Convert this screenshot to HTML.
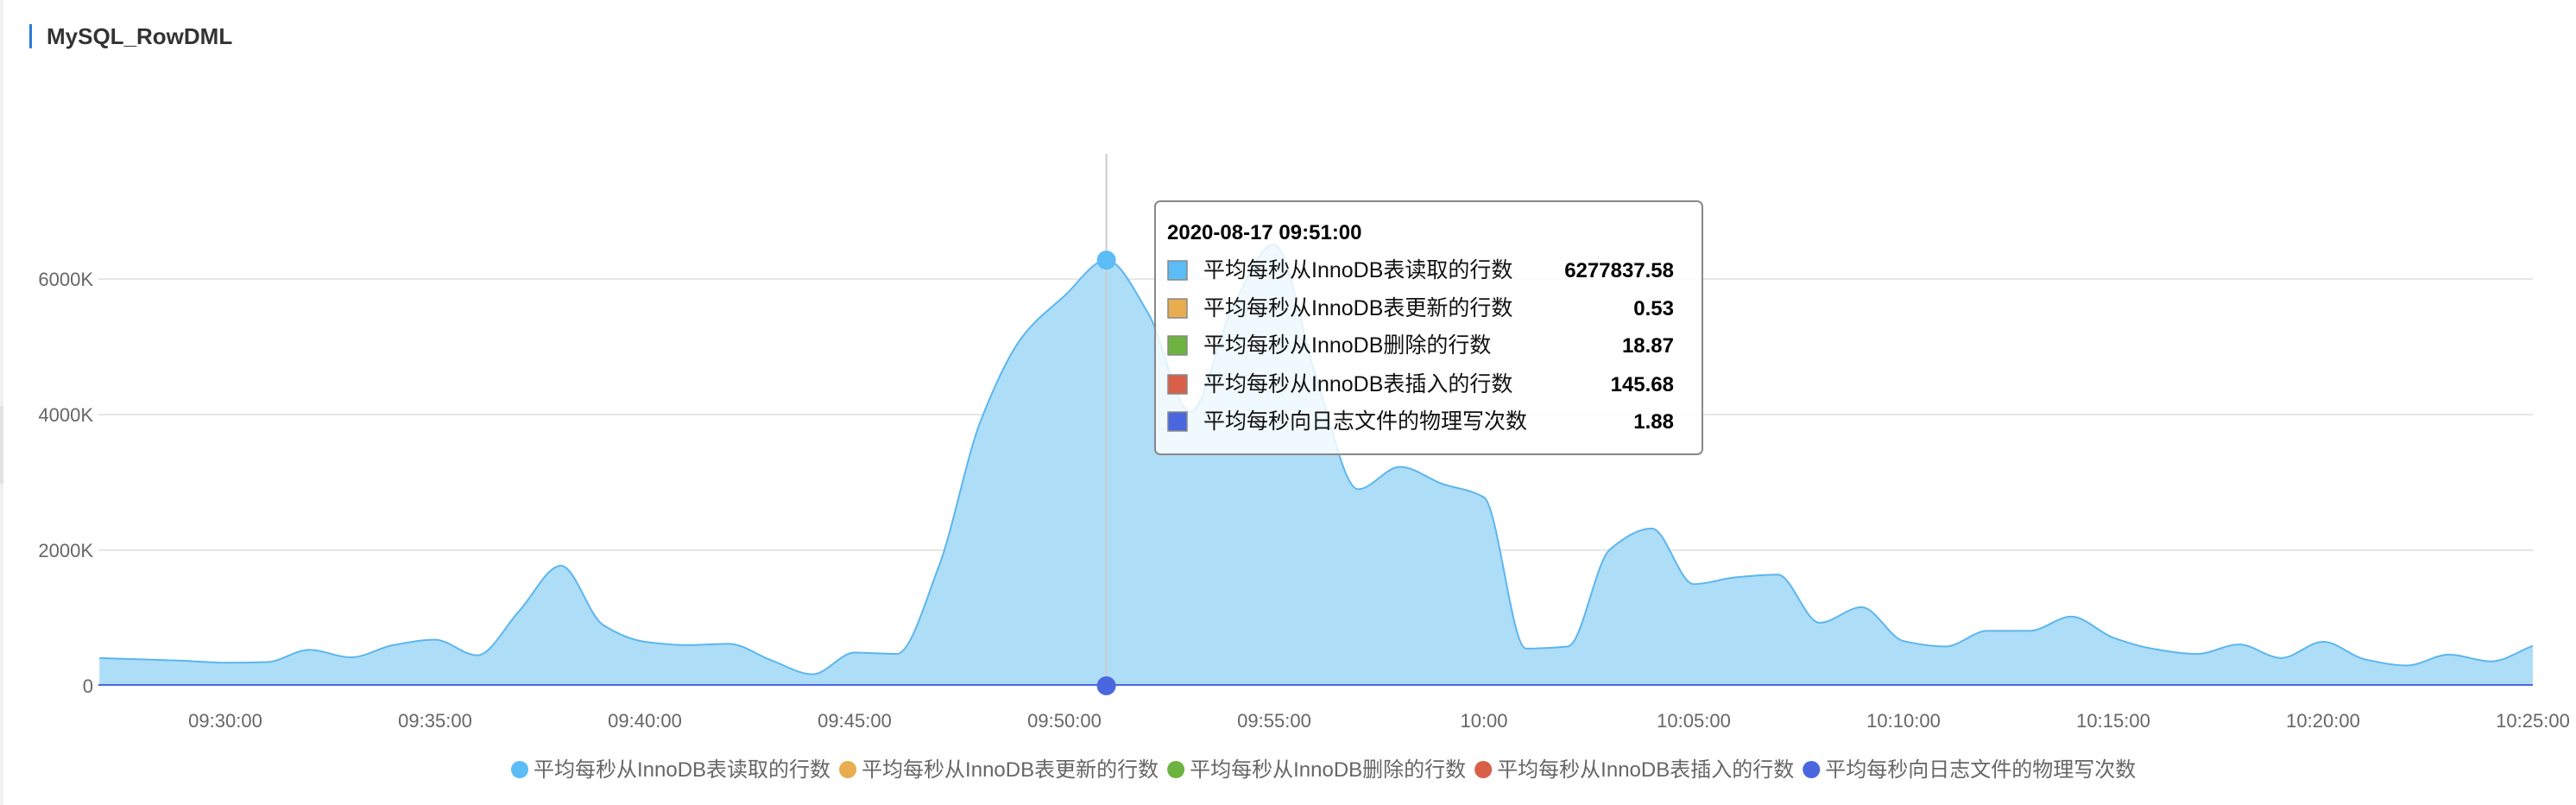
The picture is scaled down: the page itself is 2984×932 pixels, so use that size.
<!DOCTYPE html>
<html><head><meta charset="utf-8">
<style>
html,body{margin:0;padding:0;background:#fff;width:2984px;height:932px;overflow:hidden;font-family:"Liberation Sans","Noto Sans CJK SC",sans-serif;}
svg text{font-family:"Liberation Sans","Noto Sans CJK SC",sans-serif;}
</style></head>
<body>
<svg id="chart" width="2984" height="932" xmlns="http://www.w3.org/2000/svg">
  <rect x="0" y="0" width="4" height="932" fill="#f0f0f0"/>
  <rect x="0" y="470" width="4" height="90" fill="#e2e2e2"/>
  <rect x="34" y="28" width="3" height="28" fill="#2a7bd5"/>
  <text x="54" y="51" font-size="26" font-weight="bold" fill="#333">MySQL_RowDML</text>
  <g id="grid"></g>
  <g id="series"></g>
  <g id="axes"></g>
  <g id="legend"></g>
  <g id="tooltip"></g>
</svg>
<script>
const startMin = -3; // 09:27
const readValues = [410,390,370,340,350,530,420,600,680,450,1100,1770,900,650,600,620,380,170,490,470,1750,3900,5150,5750,6278,5490,4040,5570,6510,4550,2900,3230,2980,2780,550,580,2010,2320,1500,1600,1640,930,1160,660,580,810,810,1020,710,540,470,610,410,650,390,300,460,360,590];
const seriesNames = ["平均每秒从InnoDB表读取的行数","平均每秒从InnoDB表更新的行数","平均每秒从InnoDB删除的行数","平均每秒从InnoDB表插入的行数","平均每秒向日志文件的物理写次数"];
const seriesColors = ["#5cbcf5","#e8ad4f","#6db33f","#d95f48","#4a67e0"];
const tooltipValues = ["6277837.58","0.53","18.87","145.68","1.88"];
const yTicks = [0,2000,4000,6000];
const yTickLabels = ["0","2000K","4000K","6000K"];
const xTickMins = [0,5,10,15,20,25,30,35,40,45,50,55];
const xTickLabels = ["09:30:00","09:35:00","09:40:00","09:45:00","09:50:00","09:55:00","10:00","10:05:00","10:10:00","10:15:00","10:20:00","10:25:00"];
const hoverIndex = 24;

const NS="http://www.w3.org/2000/svg";
const X0=114, X1=2934, Y0=794;
function xScale(m){return 261 + m*48.6;}
function yScale(v){return Y0 - v*(157/2000);}
function mk(tag,attrs,parent){const e=document.createElementNS(NS,tag);for(const k in attrs)e.setAttribute(k,attrs[k]);parent.appendChild(e);return e;}

const grid=document.getElementById('grid'), axes=document.getElementById('axes'), series=document.getElementById('series');
yTicks.forEach((v,i)=>{
  if(v>0){const l=mk('line',{x1:X0,x2:X1,y1:yScale(v),y2:yScale(v),stroke:'#e6e6e6','stroke-width':2},grid);
  
  }
  const t=mk('text',{x:108,y:yScale(v)+8,'text-anchor':'end','font-size':22,fill:'#666'},axes);
  t.textContent=yTickLabels[i];
  
  
});
xTickMins.forEach((m,i)=>{
  const t=mk('text',{x:xScale(m),y:842,'text-anchor':'middle','font-size':22,fill:'#666'},axes);
  t.textContent=xTickLabels[i];
  
  
});

const pts=readValues.map((v,i)=>[xScale(startMin+i),yScale(v)]);
function monotone(p){
  const n=p.length, dx=[], s=[], m=[];
  for(let i=0;i<n-1;i++){dx.push(p[i+1][0]-p[i][0]);s.push((p[i+1][1]-p[i][1])/dx[i]);}
  m[0]=s[0]; m[n-1]=s[n-2];
  for(let i=1;i<n-1;i++){ if(s[i-1]*s[i]<=0) m[i]=0; else m[i]=2/(1/s[i-1]+1/s[i]); }
  let d='M'+p[0][0]+','+p[0][1];
  for(let i=0;i<n-1;i++){const h=dx[i]/3;
    d+=' C'+(p[i][0]+h)+','+(p[i][1]+m[i]*h)+' '+(p[i+1][0]-h)+','+(p[i+1][1]-m[i+1]*h)+' '+p[i+1][0]+','+p[i+1][1];}
  return d;
}
const line=monotone(pts);
const area=mk('path',{d:line+' L'+pts[pts.length-1][0]+','+Y0+' L'+pts[0][0]+','+Y0+' Z',fill:'#aeddf8'},series);


const ln=mk('path',{d:line,fill:'none',stroke:'#5cb6ee','stroke-width':2},series);


for(let s=1;s<5;s++){const l=mk('line',{x1:X0,x2:X1,y1:Y0-1,y2:Y0-1,stroke:seriesColors[s],'stroke-width':2},series);
 
 }
const hx=xScale(startMin+hoverIndex);
const cross=mk('line',{x1:hx,x2:hx,y1:178,y2:Y0,stroke:'#cccccc','stroke-width':2},series);


const d1=mk('circle',{cx:hx,cy:yScale(readValues[hoverIndex]),r:11,fill:'#5cbcf5'},series);


const d2=mk('circle',{cx:hx,cy:Y0,r:11,fill:'#4a67e0'},series);



// legend
const legend=document.getElementById('legend');
let lx=592;
seriesNames.forEach((n,i)=>{
  const g=mk('g',{},legend);
  
  
  mk('circle',{cx:lx+10,cy:891,r:10,fill:seriesColors[i]},g);
  const t=mk('text',{x:lx+26,y:899,'font-size':24,fill:'#666'},g);
  t.textContent=n;
  lx+=26+t.getComputedTextLength()+10;
});

// tooltip
const tt=document.getElementById('tooltip');
const box=mk('rect',{x:1338,y:233,width:634,height:293,rx:6,fill:'rgba(255,255,255,0.82)',stroke:'#888','stroke-width':2},tt);


const tdate=mk('text',{x:1352,y:277,'font-size':24,'font-weight':'bold',fill:'#000'},tt);
tdate.textContent='2020-08-17 09:51:00';


const rowY=[313,357,400,445,488];
seriesNames.forEach((n,i)=>{
  const g=mk('g',{},tt);
  
  
  mk('rect',{x:1353,y:rowY[i]-11,width:22,height:22,fill:seriesColors[i],stroke:'#888','stroke-width':1.5},g);
  const a=mk('text',{x:1394,y:rowY[i]+8,'font-size':25,fill:'#111'},g);a.textContent=n;
  const b=mk('text',{x:1939,y:rowY[i]+8,'font-size':24,'font-weight':'bold','text-anchor':'end',fill:'#000'},g);b.textContent=tooltipValues[i];
});
</script>
</body></html>
